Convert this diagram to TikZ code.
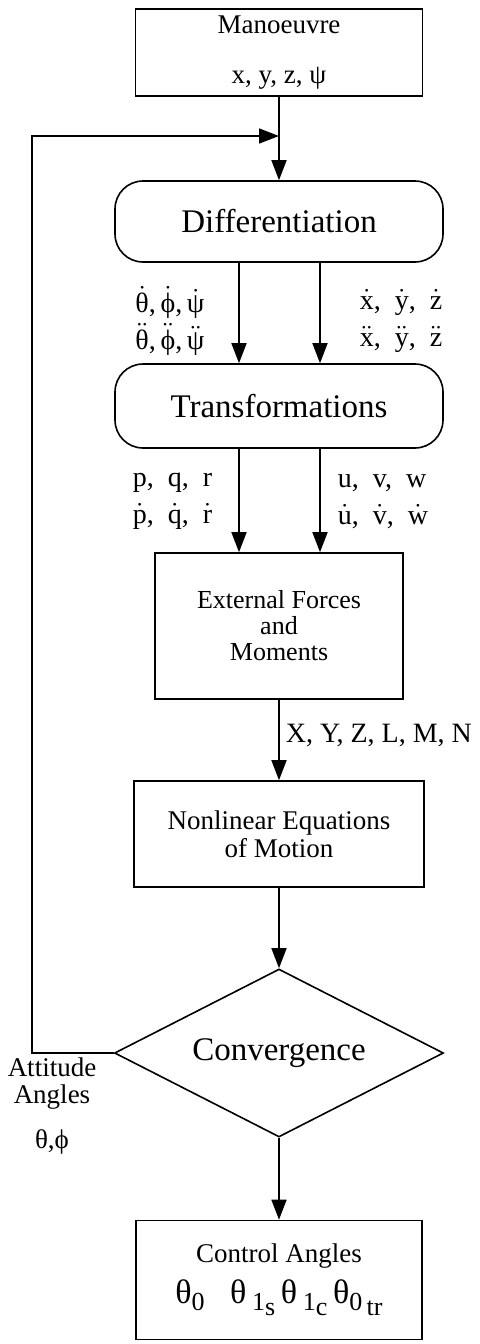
\documentclass[tikz,border=0pt]{standalone}
\usepackage{fontspec}
\setmainfont{Liberation Serif}
\usetikzlibrary{shapes.geometric,arrows.meta}
\newcommand{\vd}[1]{$\dot{\hbox{#1}}$}
\newcommand{\vdd}[1]{$\ddot{\hbox{#1}}$}
\newcommand{\lo}[1]{\raisebox{-0.45ex}{\fontsize{13}{13}\selectfont#1}}
\begin{document}
\begin{tikzpicture}[x=0.5pt,y=-0.5pt,>={Triangle[length=10pt,width=7.5pt]},line width=0.8pt,
  box/.style={draw,rectangle,align=center},
  rbox/.style={draw,rectangle,rounded corners=14pt,minimum width=164pt,font=\fontsize{16.5}{18}\selectfont},
  lbl/.style={align=left,inner sep=0pt,font=\fontsize{14}{18.5}\selectfont}]
\useasboundingbox (0,0) rectangle (479,1344);
\node[box,minimum width=143.5pt,minimum height=42.5pt,font=\fontsize{13.5}{25}\selectfont] (manv) at (279,52.5) {Manoeuvre\\x,\ y,\ z,\ ψ};
\node[rbox,minimum height=40.5pt] (diff) at (279,221.5) {Differentiation};
\node[rbox,minimum height=42pt] (trans) at (279,406) {Transformations};
\node[box,minimum width=124pt,minimum height=73pt,font=\fontsize{13}{13}\selectfont] (ext) at (279,626) {External Forces\\and\\Moments};
\node[box,minimum width=145pt,minimum height=53pt,font=\fontsize{13.5}{14}\selectfont] (eqm) at (279,834) {Nonlinear Equations\\of Motion};
\node[draw,diamond,aspect=1.96,inner sep=0pt,minimum width=164.5pt,minimum height=84pt,font=\fontsize{16.5}{18}\selectfont] (conv) at (279,1053) {Convergence};
\node[box,minimum width=143pt,minimum height=59.5pt,font=\fontsize{13.5}{20.5}\selectfont] (ctrl) at (279,1280) {Control Angles\\{\fontsize{17}{17}\selectfont θ\lo{0}\ \ \ θ\,\lo{1\lo{s}}\,θ\,\lo{1\lo{c}}\,θ\lo{0\,\lo{tr}}}};
\node[lbl] (angL) at (170,321) {\vd{θ},\,\vd{ϕ},\,\vd{ψ}\\\vdd{θ},\,\vdd{ϕ},\,\vdd{ψ}};
\node[lbl] (posR) at (401,321) {\vd{x},\ \ \vd{y},\ \ \vd{z}\\\vdd{x},\ \ \vdd{y},\ \ \vdd{z}};
\node[lbl] (rateL) at (172.5,501.5) {p,\ \ q,\ \ r\\\vd{p},\ \ \vd{q},\ \ \vd{r}};
\node[lbl] (velR) at (383,501.5) {u,\ \ v,\ \ w\\\vd{u},\ \ \vd{v},\ \ \vd{w}};
\node[lbl,anchor=west] (frc) at (285,735) {X, Y, Z, L, M, N};
\node[lbl,align=center,font=\fontsize{13.5}{13.5}\selectfont] (att) at (52,1106) {Attitude\\Angles\\[9pt]θ,ϕ};
\coordinate (join) at (279,136);
\coordinate (loopT) at (32,136);
\draw[->] (manv) -- (diff);
\draw[->] (conv.west) -| (loopT) -- (join);
\draw[->] ([xshift=-20pt]diff.south) -- ([xshift=-20pt]trans.north);
\draw[->] ([xshift=20.5pt]diff.south) -- ([xshift=20.5pt]trans.north);
\draw[->] ([xshift=-20pt]trans.south) -- ([xshift=-20pt]ext.north);
\draw[->] ([xshift=20.5pt]trans.south) -- ([xshift=20.5pt]ext.north);
\draw[->] (ext) -- (eqm);
\draw[->] (eqm) -- (conv);
\draw[->] (conv) -- (ctrl);
\end{tikzpicture}
\end{document}
